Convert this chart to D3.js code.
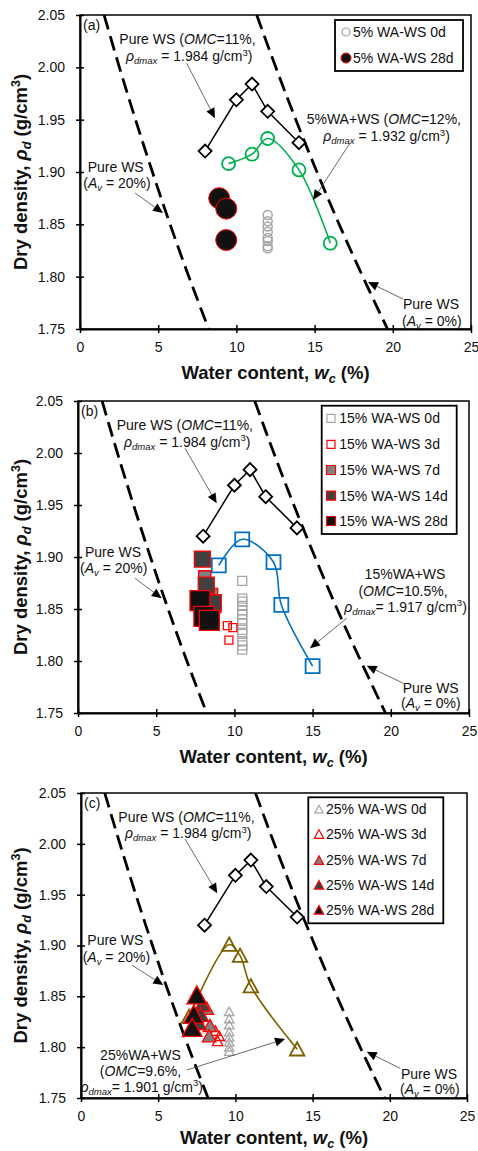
<!DOCTYPE html>
<html><head><meta charset="utf-8">
<script src="https://cdn.jsdelivr.net/npm/d3@7"></script>
<style>
html,body{margin:0;padding:0;background:#fff;}
svg{display:block;font-family:"Liberation Sans",Arial,Helvetica,sans-serif;}
</style></head><body>
<svg id="chart" width="478" height="1151"></svg>
<script>
// ---------------- data ----------------
const xTicks = [0, 5, 10, 15, 20, 25];
const yTicks = [1.75, 1.80, 1.85, 1.90, 1.95, 2.00, 2.05];

// Pure WS compaction curve
const pureW = [8, 10, 11, 12, 14];
const pureD = [1.920, 1.969, 1.984, 1.958, 1.928];

// Air-void reference lines of pure WS
const avD   = [2.05, 2.00, 1.95, 1.90, 1.85, 1.80, 1.75];
const av20W = [1.54, 2.52, 3.55, 4.63, 5.76, 6.96, 8.23];
const av0W  = [11.30, 12.52, 13.80, 15.15, 16.57, 18.08, 19.66];

// 5% WA-WS
const wa5CurveW = [9.5, 11, 12, 14, 16];
const wa5CurveD = [1.908, 1.917, 1.932, 1.902, 1.832];
const wa5d0W  = [12, 12, 12, 12, 12, 12, 12, 12];
const wa5d0D  = [1.859, 1.853, 1.848, 1.843, 1.837, 1.834, 1.829, 1.827];
const wa5d28W = [8.9, 9.35, 9.35];
const wa5d28D = [1.875, 1.865, 1.835];

// 15% WA-WS
const wa15CurveW = [9, 10.5, 12.5, 13, 15];
const wa15CurveD = [1.892, 1.917, 1.895, 1.854, 1.795];
const wa15d0W  = [10.5, 10.5, 10.5, 10.5, 10.5, 10.5, 10.5, 10.5, 10.5, 10.5, 10.5, 10.5, 10.5];
const wa15d0D  = [1.877, 1.860, 1.857, 1.853, 1.849, 1.845, 1.840, 1.836, 1.830, 1.826, 1.819, 1.815, 1.811];
const wa15d3W  = [9.55, 9.9, 9.65];
const wa15d3D  = [1.834, 1.832, 1.820];
const wa15d7W  = [8.1, 8.55, 8.75];
const wa15d7D  = [1.881, 1.864, 1.852];
const wa15d14W = [7.95, 8.2, 8.65];
const wa15d14D = [1.898, 1.873, 1.856];
const wa15d28W = [7.8, 8.05, 8.4];
const wa15d28D = [1.858, 1.843, 1.839];

// 25% WA-WS
const wa25CurveW = [7.0, 9.6, 10.3, 11.0, 14.0];
const wa25CurveD = [1.830, 1.901, 1.890, 1.860, 1.798];
const wa25d0W  = [9.6, 9.6, 9.6, 9.6, 9.6, 9.6, 9.6, 9.6];
const wa25d0D  = [1.835, 1.828, 1.822, 1.815, 1.810, 1.805, 1.800, 1.796];
const wa25d3W  = [8.7, 8.95, 8.85];
const wa25d3D  = [1.816, 1.811, 1.806];
const wa25d7W  = [8.15, 8.35, 8.3];
const wa25d7D  = [1.838, 1.821, 1.811];
const wa25d14W = [7.85, 7.75, 7.6];
const wa25d14D = [1.842, 1.832, 1.824];
const wa25d28W = [7.5, 7.3, 7.2];
const wa25d28D = [1.851, 1.832, 1.819];

// ---------------- helpers ----------------
const zip = (w, d) => w.map((v, i) => ({ w: v, d: d[i] }));
const svg = d3.select('#chart');
const FONT = 14;
const RED = '#ff0000';

// text with italic / subscript / superscript runs
function rich(parent, x, y, segs, fs, anchor, weight) {
  const t = parent.append('text').attr('x', x).attr('y', y)
    .attr('font-size', fs).attr('text-anchor', anchor || 'start')
    .attr('fill', '#111');
  if (weight) t.attr('font-weight', weight);
  let shift = 0;
  segs.forEach(s => {
    const sp = t.append('tspan').text(s.t);
    const target = s.sub ? fs * 0.24 : s.sup ? -fs * 0.38 : 0;
    const dy = target - shift;
    if (dy) sp.attr('dy', dy);
    shift = target;
    if (s.sub || s.sup) sp.attr('font-size', fs * 0.68);
    if (s.i) sp.attr('font-style', 'italic');
  });
  return t;
}

function arrow(g, x1, y1, x2, y2) {
  const a = Math.atan2(y2 - y1, x2 - x1), L = 10, hw = 4.5;
  const bx = x2 - L * Math.cos(a), by = y2 - L * Math.sin(a);
  g.append('line').attr('x1', x1).attr('y1', y1).attr('x2', bx).attr('y2', by)
    .attr('stroke', '#444').attr('stroke-width', 0.8);
  const px = -Math.sin(a) * hw, py = Math.cos(a) * hw;
  g.append('path')
    .attr('d', `M${x2},${y2}L${bx + px},${by + py}L${bx - px},${by - py}Z`)
    .attr('fill', '#000');
}

// marker shapes centred on 0,0
const shape = {
  circle: s => `M${s / 2},0A${s / 2},${s / 2} 0 1,1 ${-s / 2},0A${s / 2},${s / 2} 0 1,1 ${s / 2},0Z`,
  square: s => `M${-s / 2},${-s / 2}H${s / 2}V${s / 2}H${-s / 2}Z`,
  diamond: s => `M0,${-s / 2}L${s / 2},0L0,${s / 2}L${-s / 2},0Z`,
  triangle: s => `M0,${-s * 0.5}L${s * 0.52},${s * 0.45}L${-s * 0.52},${s * 0.45}Z`
};

const ptxt = (t) => [{ t }];
const omc = (v) => [{ t: 'Pure WS (' }, { t: 'OMC', i: 1 }, { t: '=' + v + ',' }];
const rho = (sep, v) => [{ t: 'ρ', i: 1 }, { t: 'dmax', i: 1, sub: 1 }, { t: sep + v + ' g/cm' }, { t: '3', sup: 1 }, { t: ')' }];
const av = (v) => [{ t: '(' }, { t: 'A', i: 1 }, { t: 'v', i: 1, sub: 1 }, { t: ' = ' + v + ')' }];

const pureSeries = { pts: zip(pureW, pureD), shape: 'diamond', size: 13, fill: '#fff', stroke: '#000', sw: 1.8 };

const panels = [
  {
    tag: '(a)', box: { l: 80, r: 471, t: 15, b: 329 }, titleGap: 50,
    curve: { pts: zip(wa5CurveW, wa5CurveD), color: '#00b050', shape: 'circle', size: 13 },
    scatter: [
      { pts: zip(wa5d0W, wa5d0D), shape: 'circle', size: 9, fill: 'none', stroke: '#a6a6a6', sw: 1.5, label: '5% WA-WS 0d', lsize: 8 },
      { pts: zip(wa5d28W, wa5d28D), shape: 'circle', size: 21, fill: '#111', stroke: RED, sw: 1, label: '5% WA-WS 28d', lsize: 10 }
    ],
    legend: { x0: 255, x1: 383, y0: 5, y1: 56, mx: 266, tx: 273, rows: [17, 43] },
    notes: [
      { x: 39.3, y: 29, segs: omc('11%') }, { x: 46, y: 46, segs: rho(' = ', '1.984') },
      { x: 226.7, y: 109, segs: [{ t: '5%WA+WS (' }, { t: 'OMC', i: 1 }, { t: '=12%,' }] },
      { x: 243.3, y: 126, segs: rho(' = ', '1.932') },
      { x: 7.7, y: 156.5, segs: ptxt('Pure WS') }, { x: 3.3, y: 173, segs: av('20%') },
      { x: 323, y: 294, segs: ptxt('Pure WS') }, { x: 322, y: 311, segs: av('0%') }
    ],
    arrows: [[106.7, 48.3, 135, 103.3], [270, 128, 233, 185], [55, 178, 83, 198], [323, 284, 288, 267]]
  },
  {
    tag: '(b)', box: { l: 78, r: 469, t: 401, b: 713 }, titleGap: 50,
    curve: { pts: zip(wa15CurveW, wa15CurveD), color: '#0070c0', shape: 'square', size: 14 },
    scatter: [
      { pts: zip(wa15d0W, wa15d0D), shape: 'square', size: 9, fill: 'none', stroke: '#a6a6a6', sw: 1.3, label: '15% WA-WS 0d', lsize: 8 },
      { pts: zip(wa15d3W, wa15d3D), shape: 'square', size: 8, fill: 'none', stroke: RED, sw: 1.3, label: '15% WA-WS 3d', lsize: 8 },
      { pts: zip(wa15d7W, wa15d7D), shape: 'square', size: 12, fill: '#808080', stroke: RED, sw: 1.3, label: '15% WA-WS 7d', lsize: 9 },
      { pts: zip(wa15d14W, wa15d14D), shape: 'square', size: 16, fill: '#404040', stroke: RED, sw: 1.3, label: '15% WA-WS 14d', lsize: 9 },
      { pts: zip(wa15d28W, wa15d28D), shape: 'square', size: 20, fill: '#111', stroke: RED, sw: 1.3, label: '15% WA-WS 28d', lsize: 9 }
    ],
    legend: { x0: 243.7, x1: 378.7, y0: 4.7, y1: 133, mx: 253, tx: 261.3, rows: [17.3, 43.3, 69, 94.7, 120] },
    notes: [
      { x: 38.7, y: 29, segs: omc('11%') }, { x: 46, y: 45.5, segs: rho(' = ', '1.984') },
      { x: 7, y: 155.5, segs: ptxt('Pure WS') }, { x: 2, y: 172, segs: av('20%') },
      { x: 327, y: 178, segs: ptxt('15%WA+WS'), anchor: 'middle' },
      { x: 325, y: 195, segs: [{ t: '(' }, { t: 'OMC', i: 1 }, { t: '=10.5%,' }], anchor: 'middle' },
      { x: 327.5, y: 210.5, segs: rho('= ', '1.917'), anchor: 'middle' },
      { x: 324.7, y: 291.5, segs: ptxt('Pure WS') }, { x: 323, y: 307, segs: av('0%') }
    ],
    arrows: [[107, 47.3, 138.7, 102.3], [57, 177.3, 83.7, 197.3], [268.7, 217.3, 232, 247.3], [325.3, 282.3, 288.7, 264.7]]
  },
  {
    tag: '(c)', box: { l: 81, r: 467, t: 793, b: 1098 }, titleGap: 46,
    curve: { pts: zip(wa25CurveW, wa25CurveD), color: '#7f6000', shape: 'triangle', size: 14 },
    scatter: [
      { pts: zip(wa25d0W, wa25d0D), shape: 'triangle', size: 9, fill: 'none', stroke: '#a6a6a6', sw: 1.3, label: '25% WA-WS 0d', lsize: 8 },
      { pts: zip(wa25d3W, wa25d3D), shape: 'triangle', size: 10, fill: 'none', stroke: RED, sw: 1.3, label: '25% WA-WS 3d', lsize: 9 },
      { pts: zip(wa25d7W, wa25d7D), shape: 'triangle', size: 13, fill: '#808080', stroke: RED, sw: 1.3, label: '25% WA-WS 7d', lsize: 9 },
      { pts: zip(wa25d14W, wa25d14D), shape: 'triangle', size: 15, fill: '#404040', stroke: RED, sw: 1.3, label: '25% WA-WS 14d', lsize: 9 },
      { pts: zip(wa25d28W, wa25d28D), shape: 'triangle', size: 19, fill: '#111', stroke: RED, sw: 1.3, label: '25% WA-WS 28d', lsize: 9 }
    ],
    legend: { x0: 227.3, x1: 362.3, y0: 4.3, y1: 130.3, mx: 238, tx: 245, rows: [16.3, 41.3, 67.3, 92, 117] },
    notes: [
      { x: 37.3, y: 28.5, segs: omc('11%') }, { x: 44, y: 45, segs: rho(' = ', '1.984') },
      { x: 6.3, y: 152, segs: ptxt('Pure WS') }, { x: 1.7, y: 168.5, segs: av('20%') },
      { x: 59.5, y: 267, segs: ptxt('25%WA+WS'), anchor: 'middle' },
      { x: 59.5, y: 283, segs: [{ t: '(' }, { t: 'OMC', i: 1 }, { t: '=9.6%,' }], anchor: 'middle' },
      { x: 60.7, y: 298.5, segs: rho('= ', '1.901'), anchor: 'middle' },
      { x: 320, y: 286, segs: ptxt('Pure WS') }, { x: 319, y: 301, segs: av('0%') }
    ],
    arrows: [[104, 46, 136.3, 100.3], [50.7, 172, 82.3, 192], [105.7, 277, 204, 246], [319, 275.3, 285.7, 258.7]]
  }
];

// ---------------- drawing ----------------
panels.forEach((p, pi) => {
  const { l, r, t, b } = p.box;
  const x = d3.scaleLinear().domain([0, 25]).range([l, r]);
  const y = d3.scaleLinear().domain([1.75, 2.05]).range([b, t]);
  const g = svg.append('g');

  const clipId = 'clip' + pi;
  g.append('clipPath').attr('id', clipId).append('rect')
    .attr('x', l).attr('y', t).attr('width', r - l).attr('height', b - t);

  // plot frame
  g.append('rect').attr('x', l).attr('y', t).attr('width', r - l).attr('height', b - t)
    .attr('fill', 'none').attr('stroke', '#000').attr('stroke-width', 1.5);

  // air-void dashed lines
  const avLine = d3.line().x(d => x(d.w)).y(d => y(d.d)).curve(d3.curveMonotoneY);
  [av20W, av0W].forEach(ws => {
    g.append('path').attr('clip-path', `url(#${clipId})`)
      .attr('d', avLine(zip(ws, avD)))
      .attr('fill', 'none').attr('stroke', '#000').attr('stroke-width', 2.8)
      .attr('stroke-dasharray', '15,7');
  });

  // axes
  const yAxis = g.append('g').attr('transform', `translate(${l},0)`)
    .call(d3.axisLeft(y).tickValues(yTicks).tickFormat(d3.format('.2f'))
      .tickSizeInner(4).tickSizeOuter(0).tickPadding(11));
  const xAxis = g.append('g').attr('transform', `translate(0,${b})`)
    .call(d3.axisBottom(x).tickValues(xTicks).tickFormat(d3.format('d'))
      .tickSizeInner(4).tickSizeOuter(0).tickPadding(9));
  [yAxis, xAxis].forEach(ax => {
    ax.attr('font-family', null).attr('font-size', null);
    ax.select('.domain').attr('stroke', '#000').attr('stroke-width', 2);
    ax.selectAll('.tick line').attr('stroke', '#000').attr('stroke-width', 1.5);
    ax.selectAll('.tick text').attr('font-size', FONT).attr('fill', '#111');
  });
  yAxis.selectAll('.tick line').attr('x1', 4);
  xAxis.selectAll('.tick line').attr('y1', -4);

  // axis titles
  const cy = (t + b) / 2;
  const yt = g.append('g').attr('transform', `translate(27,${cy}) rotate(-90)`);
  rich(yt, 0, 0, [{ t: 'Dry density, ' }, { t: 'ρ', i: 1 }, { t: 'd', i: 1, sub: 1 }, { t: ' (g/cm' }, { t: '3', sup: 1 }, { t: ')' }],
    18.5, 'middle', 'bold');
  rich(g, (l + r) / 2, b + p.titleGap, [{ t: 'Water content, ' }, { t: 'w', i: 1 }, { t: 'c', i: 1, sub: 1 }, { t: ' (%)' }],
    18.5, 'middle', 'bold');

  // series
  const mark = (sel, s) => sel.append('path')
    .attr('d', shape[s.shape](s.size))
    .attr('fill', s.fill).attr('stroke', s.stroke).attr('stroke-width', s.sw);

  const straight = d3.line().x(d => x(d.w)).y(d => y(d.d));
  const smooth = d3.line().x(d => x(d.w)).y(d => y(d.d)).curve(d3.curveCatmullRom.alpha(0.5));

  // pure WS
  g.append('path').attr('d', straight(pureSeries.pts)).attr('fill', 'none')
    .attr('stroke', '#000').attr('stroke-width', 1.5);
  g.append('g').selectAll('g').data(pureSeries.pts).join('g')
    .attr('transform', d => `translate(${x(d.w)},${y(d.d)})`)
    .each(function () { mark(d3.select(this), pureSeries); });

  // WA+WS compaction curve
  const c = p.curve;
  g.append('path').attr('d', smooth(c.pts)).attr('fill', 'none')
    .attr('stroke', c.color).attr('stroke-width', 1.6);
  g.append('g').selectAll('g').data(c.pts).join('g')
    .attr('transform', d => `translate(${x(d.w)},${y(d.d)})`)
    .each(function () { mark(d3.select(this), { shape: c.shape, size: c.size, fill: 'none', stroke: c.color, sw: 1.8 }); });

  // curing-time scatter
  p.scatter.forEach(s => {
    g.append('g').selectAll('g').data(s.pts).join('g')
      .attr('transform', d => `translate(${x(d.w)},${y(d.d)})`)
      .each(function () { mark(d3.select(this), s); });
  });

  // annotations
  const ag = g.append('g');
  p.notes.forEach(n => rich(ag, l + n.x, t + n.y, n.segs, FONT, n.anchor));
  p.arrows.forEach(a => arrow(ag, l + a[0], t + a[1], l + a[2], t + a[3]));

  // panel tag
  g.append('text').attr('x', l + 3).attr('y', t + 15).attr('font-size', FONT).attr('fill', '#111').text(p.tag);

  // legend
  const L = p.legend;
  const lg = g.append('g');
  lg.append('rect').attr('x', l + L.x0).attr('y', t + L.y0)
    .attr('width', L.x1 - L.x0).attr('height', L.y1 - L.y0)
    .attr('fill', '#fff').attr('stroke', '#000').attr('stroke-width', 1.8);
  p.scatter.forEach((s, i) => {
    const ry = t + L.rows[i];
    const m = lg.append('g').attr('transform', `translate(${l + L.mx},${ry})`);
    mark(m, Object.assign({}, s, { size: s.lsize, sw: Math.min(s.sw, 1.2) }));
    lg.append('text').attr('x', l + L.tx).attr('y', ry + 5)
      .attr('font-size', FONT).attr('fill', '#111').text(s.label);
  });
});
</script>
</body></html>
